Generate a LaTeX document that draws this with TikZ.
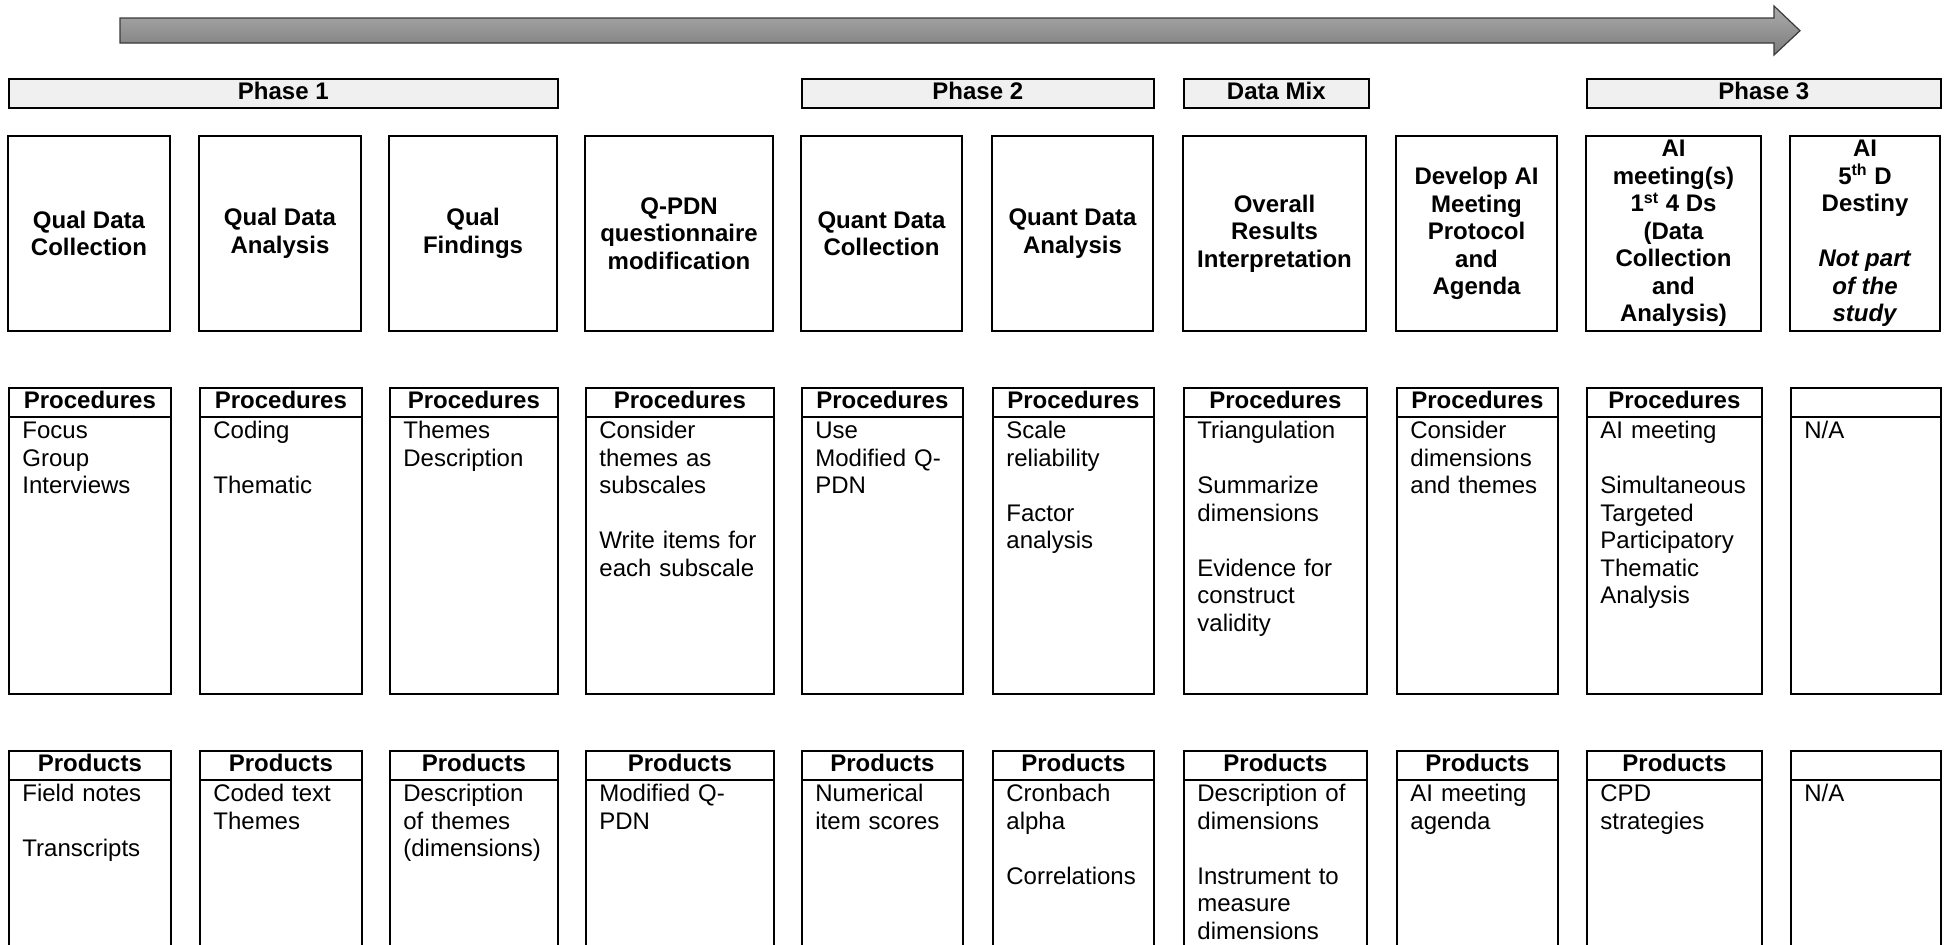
\documentclass[tikz,border=0pt]{standalone}
\usepackage{fontspec}
\setmainfont{Liberation Sans}
\usetikzlibrary{calc}

\definecolor{barfill}{HTML}{F0F0F0}
\definecolor{arrowtop}{HTML}{ABABAB}
\definecolor{arrowbot}{HTML}{7C7C7C}
\definecolor{arrowline}{HTML}{3A3A3A}

\tikzset{
  cell/.style={draw, line width=0.9pt, inner sep=0pt, anchor=north west},
  headcell/.style={draw, line width=0.9pt, inner sep=0pt, anchor=north west,
    minimum height=14.5pt, text height=9pt, text depth=2.5pt,
    font=\fontsize{12}{13.75}\selectfont\bfseries},
  titlecell/.style={draw, line width=0.9pt, inner sep=0pt, minimum height=97.5pt,
    align=center, font=\fontsize{12}{13.75}\selectfont\bfseries},
  bodytext/.style={inner sep=0pt, anchor=base west, align=left,
    font=\fontsize{12}{13.75}\selectfont},
  phasebar/.style={draw, line width=0.8pt, fill=barfill, inner sep=0pt,
    anchor=north west, minimum height=14.5pt, text height=9pt, text depth=2.5pt,
    font=\fontsize{12}{13.75}\selectfont\bfseries}
}

% One stage column: title box, procedures box, products box
% #1 name, #2 left edge, #3 right edge, #4 title,
% #5 procedures header, #6 procedures, #7 products header, #8 products
\newcommand\stagecol[8]{%
  \pgfmathsetmacro\colw{(#3-#2)/2}%
  \pgfmathsetmacro\bodyw{\colw-8}%
  \node[titlecell, minimum width=\colw pt] (#1) at ({(#2+#3)/2},233.5) {#4};
  \node[cell, minimum width=\colw pt, minimum height=153pt] (#1-proc) at (#2,387) {};
  \node[headcell, minimum width=\colw pt] (#1-prochead) at (#2,387) {#5};
  \node[bodytext, text width=\bodyw pt] (#1-proctext) at ({#2+14},438.5) {#6};
  \node[cell, minimum width=\colw pt, minimum height=115pt] (#1-prod) at (#2,750) {};
  \node[headcell, minimum width=\colw pt] (#1-prodhead) at (#2,750) {#7};
  \node[bodytext, text width=\bodyw pt] (#1-prodtext) at ({#2+14},801.7) {#8};
}

\begin{document}
\begin{tikzpicture}[x=0.5pt, y=-0.5pt]
\useasboundingbox (0,0) rectangle (1944,944);
\clip (0,0) rectangle (1944,944);

% time-line arrow
\shade[top color=arrowtop, bottom color=arrowbot, draw=arrowline, line width=0.6pt]
  (120,18) -- (1774,18) -- (1774,6) -- (1800,30.7) -- (1774,55) -- (1774,43)
  -- (120,43) -- cycle;

% phase bars
\node[phasebar, minimum width=274.5pt] (phase1) at (8,78) {Phase 1};
\node[phasebar, minimum width=176pt] (phase2) at (801,78) {Phase 2};
\node[phasebar, minimum width=92.5pt] (datamix) at (1183,78) {Data Mix};
\node[phasebar, minimum width=177pt] (phase3) at (1586,78) {Phase 3};

\stagecol{qualcol}{8}{170}{Qual Data\\Collection}
  {Procedures}{Focus\\Group\\Interviews}
  {Products}{Field notes\\[\baselineskip]Transcripts}

\stagecol{qualan}{199}{361}{Qual Data\\Analysis}
  {Procedures}{Coding\\[\baselineskip]Thematic}
  {Products}{Coded text\\Themes}

\stagecol{qualfind}{389}{557}{Qual\\Findings}
  {Procedures}{Themes\\Description}
  {Products}{Description\\of themes\\(dimensions)}

\stagecol{qpdn}{585}{773}{Q-PDN\\questionnaire\\modification}
  {Procedures}{Consider\\themes as\\subscales\\[\baselineskip]Write items for\\each subscale}
  {Products}{Modified Q-\\PDN}

\stagecol{quantcol}{801}{962}{Quant Data\\Collection}
  {Procedures}{Use\\Modified Q-\\PDN}
  {Products}{Numerical\\item scores}

\stagecol{quantan}{992}{1153}{Quant Data\\Analysis}
  {Procedures}{Scale\\reliability\\[\baselineskip]Factor\\analysis}
  {Products}{Cronbach\\alpha\\[\baselineskip]Correlations}

\stagecol{overall}{1183}{1366}{Overall\\Results\\Interpretation}
  {Procedures}{Triangulation\\[\baselineskip]Summarize\\dimensions\\[\baselineskip]Evidence for\\construct\\validity}
  {Products}{Description of\\dimensions\\[\baselineskip]Instrument to\\measure\\dimensions}

\stagecol{protocol}{1396}{1557}{Develop AI\\Meeting\\Protocol\\and\\Agenda}
  {Procedures}{Consider\\dimensions\\and themes}
  {Products}{AI meeting\\agenda}

\stagecol{aimeet}{1586}{1761}{AI\\meeting(s)\\1\textsuperscript{st} 4 Ds\\(Data\\Collection\\and\\Analysis)}
  {Procedures}{AI meeting\\[\baselineskip]Simultaneous\\Targeted\\Participatory\\Thematic\\Analysis}
  {Products}{CPD\\strategies}

\stagecol{destiny}{1790}{1940}{AI\\5\textsuperscript{th} D\\Destiny\\[\baselineskip]\textit{Not part}\\\textit{of the}\\\textit{study}}
  {}{N/A}
  {}{N/A}
\end{tikzpicture}
\end{document}
